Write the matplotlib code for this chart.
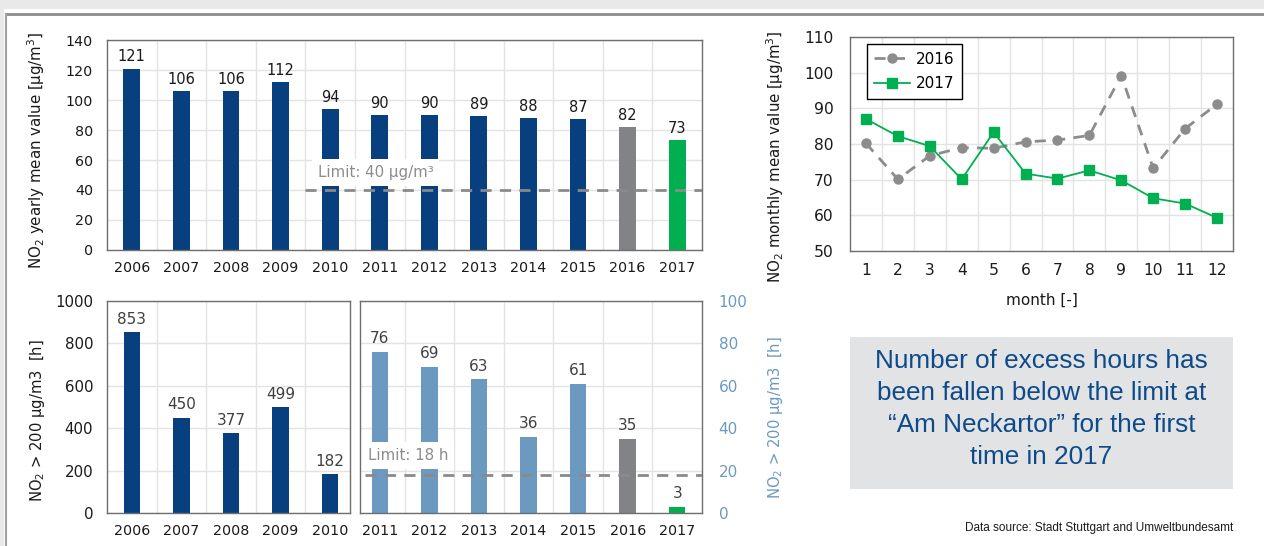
import matplotlib
matplotlib.use("Agg")
import matplotlib.pyplot as plt
from matplotlib.patches import Rectangle
from matplotlib.lines import Line2D

plt.rcParams['font.family'] = ['DejaVu Sans']
plt.rcParams['mathtext.default'] = 'regular'

# ---------------- data ----------------
years = ['2006', '2007', '2008', '2009', '2010', '2011', '2012',
         '2013', '2014', '2015', '2016', '2017']
yearly_mean = [121, 106, 106, 112, 94, 90, 90, 89, 88, 87, 82, 73]
years_early = ['2006', '2007', '2008', '2009', '2010']
hours_early = [853, 450, 377, 499, 182]
years_late = ['2011', '2012', '2013', '2014', '2015', '2016', '2017']
hours_late = [76, 69, 63, 36, 61, 35, 3]
months = [1, 2, 3, 4, 5, 6, 7, 8, 9, 10, 11, 12]
monthly_2016 = [80.2, 70.1, 76.7, 79.0, 78.8, 80.6, 81.1, 82.4, 99.2, 73.2, 84.3, 91.2]
monthly_2017 = [87.0, 82.2, 79.4, 70.1, 83.3, 71.7, 70.3, 72.6, 69.8, 64.8, 63.3, 59.3]
limit_yearly = 40
limit_hours = 18

# ---------------- styles ----------------
DARK = '#083f7e'
GRAY = '#818386'
GREEN = '#00b050'
STEEL = '#6b99c0'
GRID = '#e3e3e3'
SPINE = '#6e6e6e'
LIM = '#8a8a8a'
TXT = '#1a1a1a'
W, H = 1264, 546

fig = plt.figure(figsize=(W / 100, H / 100), dpi=100)


def ax_px(x0, y0, x1, y1):
    return fig.add_axes([x0 / W, 1 - y1 / H, (x1 - x0) / W, (y1 - y0) / H])


def style(ax, size=10.3):
    ax.set_axisbelow(True)
    for s in ax.spines.values():
        s.set_color(SPINE)
        s.set_linewidth(1.0)
    ax.tick_params(length=0, labelsize=size, colors=TXT)
    ax.grid(axis='y', color=GRID, lw=1)


def vgrid(ax, n):
    for i in range(n - 1):
        ax.axvline(i + 0.5, color=GRID, lw=1, zorder=0)


# outer decoration
fig.patches.append(Rectangle((0, 1 - 9 / H), 1, 9 / H, transform=fig.transFigure,
                             facecolor='#e9e9e9', edgecolor='none'))
fig.patches.append(Rectangle((0, 0), 4 / W, 1, transform=fig.transFigure,
                             facecolor='#e9e9e9', edgecolor='none'))
fig.lines.append(Line2D([6 / W, 1], [1 - 14 / H, 1 - 14 / H], transform=fig.transFigure,
                        color='#8c8c8c', lw=2))
fig.lines.append(Line2D([6 / W, 6 / W], [0, 1 - 14 / H], transform=fig.transFigure,
                        color='#a0a0a0', lw=1.5))

# ---------------- top: yearly means ----------------
ax1 = ax_px(107, 40, 702, 250)
style(ax1)
x = list(range(len(years)))
cols = [DARK] * (len(years) - 2) + [GRAY, GREEN]
bars = ax1.bar(x, yearly_mean, width=0.34, color=cols, zorder=2)
ax1.bar_label(bars, labels=[str(v) for v in yearly_mean], padding=3,
              fontsize=10.5, color=TXT)
ax1.set_xlim(-0.5, len(years) - 0.5)
ax1.set_ylim(0, 140)
ax1.set_yticks(range(0, 141, 20))
ax1.set_xticks(x)
ax1.set_xticklabels(years)
ax1.tick_params(axis='x', pad=8)
ax1.tick_params(axis='y', pad=10)
vgrid(ax1, len(years))
ax1.hlines(limit_yearly, 3.5, len(years) - 0.5, colors=LIM, linestyles=(0, (4, 3)),
           lw=2, zorder=3)
ax1.text(3.75, 51.5, 'Limit: 40 µg/m³', fontsize=10.8, color='#8c8c8c', va='center',
         ha='left', zorder=4,
         bbox=dict(boxstyle='square,pad=0.4', facecolor='white', edgecolor='none'))
ax1.set_ylabel('NO$_2$ yearly mean value [µg/m$^3$]', fontsize=10.8, color=TXT)
ax1.yaxis.set_label_coords(-0.1, 0.476)

# ---------------- bottom-left: excess hours 2006-2010 ----------------
ax2 = ax_px(107, 301, 350, 513)
style(ax2)
xe = list(range(len(years_early)))
b2 = ax2.bar(xe, hours_early, width=0.33, color=DARK, zorder=2)
ax2.bar_label(b2, labels=[str(v) for v in hours_early], padding=4, fontsize=11,
              color='#404040')
ax2.set_xlim(-0.5, len(years_early) - 0.6)
ax2.set_ylim(0, 1000)
ax2.set_yticks(range(0, 1001, 200))
ax2.set_xticks(xe)
ax2.set_xticklabels(years_early)
ax2.tick_params(axis='x', pad=8)
ax2.tick_params(axis='y', pad=10, labelsize=10.8)
vgrid(ax2, len(years_early))
ax2.set_ylabel('NO$_2$ > 200 µg/m3  [h]', fontsize=10.6, color=TXT)
ax2.yaxis.set_label_coords(-0.245, 0.436)

# ---------------- bottom-middle: excess hours 2011-2017 ----------------
ax3 = ax_px(360, 301, 702, 513)
style(ax3)
xl = list(range(len(years_late)))
cols3 = [STEEL] * (len(years_late) - 2) + [GRAY, GREEN]
b3 = ax3.bar(xl, hours_late, width=0.33, color=cols3, zorder=2)
ax3.bar_label(b3, labels=[str(v) for v in hours_late], padding=4, fontsize=11,
              color='#404040')
ax3.set_xlim(-0.4, len(years_late) - 0.5)
ax3.set_ylim(0, 100)
ax3.set_yticks(range(0, 101, 20))
ax3.set_xticks(xl)
ax3.set_xticklabels(years_late)
ax3.yaxis.tick_right()
ax3.yaxis.set_label_position('right')
ax3.tick_params(axis='y', colors=STEEL, labelsize=11, pad=12)
ax3.tick_params(axis='x', pad=8)
vgrid(ax3, len(years_late))
ax3.hlines(limit_hours, -0.3, len(years_late) - 0.5, colors=LIM, linestyles=(0, (4, 3)),
           lw=2, zorder=3)
ax3.text(-0.24, 27.3, 'Limit: 18 h', fontsize=10.8, color='#8c8c8c', va='center',
         ha='left', zorder=4,
         bbox=dict(boxstyle='square,pad=0.4', facecolor='white', edgecolor='none'))
ax3.set_ylabel('NO$_2$ > 200 µg/m3  [h]', fontsize=10.6, color=STEEL)
ax3.yaxis.set_label_coords(1.187, 0.448)

# ---------------- right: monthly means ----------------
ax4 = ax_px(850, 37, 1233, 251)
style(ax4, 11.2)
ax4.plot(months, monthly_2016, color='#8c8c8c', lw=2, ls=(0, (4, 3)), marker='o',
         markersize=6.5, label='2016', zorder=3)
ax4.plot(months, monthly_2017, color=GREEN, lw=1.3, marker='s', markersize=6.5,
         label='2017', zorder=4)
ax4.set_xlim(0.5, 12.5)
ax4.set_ylim(50, 110)
ax4.set_yticks(range(50, 111, 10))
ax4.set_xticks(months)
for m in months[:-1]:
    ax4.axvline(m + 0.5, color=GRID, lw=1, zorder=0)
ax4.tick_params(axis='y', pad=12)
ax4.tick_params(axis='x', pad=9)
ax4.set_xlabel('month [-]', fontsize=11, color=TXT, labelpad=10)
ax4.set_ylabel('NO$_2$ monthly mean value [µg/m$^3$]', fontsize=10.8, color=TXT)
ax4.yaxis.set_label_coords(-0.168, 0.44)
leg = ax4.legend(loc='upper left', bbox_to_anchor=(0.044, 0.967), borderaxespad=0,
                 fontsize=11, frameon=True, fancybox=False, framealpha=1,
                 handlelength=2.3, borderpad=0.5, labelspacing=0.6, handletextpad=0.4)
leg.get_frame().set_edgecolor('black')
leg.get_frame().set_linewidth(1)

# ---------------- text box ----------------
fig.patches.append(Rectangle((850 / W, 1 - 489 / H), 383 / W, 152 / H,
                             transform=fig.transFigure, facecolor='#e1e3e4',
                             edgecolor='none'))
fig.text(1041.5 / W, 1 - 409 / H,
         'Number of excess hours has\nbeen fallen below the limit at\n'
         '\u201cAm Neckartor\u201d for the first\ntime in 2017',
         ha='center', va='center', fontsize=18.8, color='#0e4a8a', linespacing=1.42,
         family='Liberation Sans')
fig.text(1233 / W, 1 - 528 / H, 'Data source: Stadt Stuttgart and Umweltbundesamt',
         ha='right', va='center', fontsize=8.5, color='#1a1a1a',
         family='Liberation Sans')

fig.savefig('out.png', dpi=100)
